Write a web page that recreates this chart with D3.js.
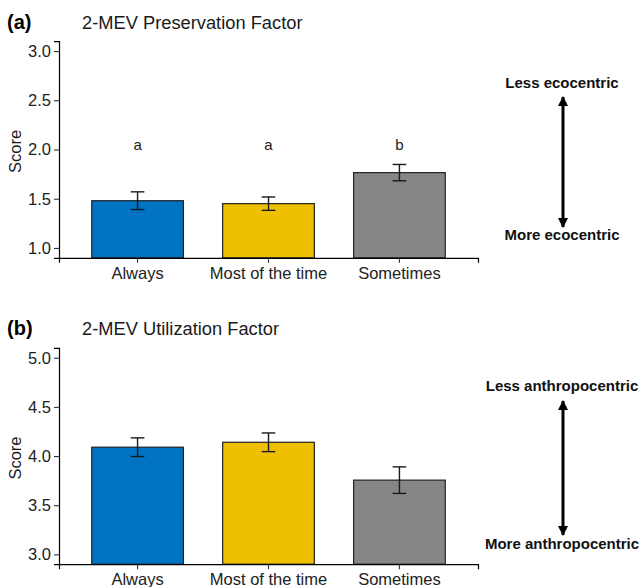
<!DOCTYPE html>
<html>
<head>
<meta charset="utf-8">
<script src="https://cdn.jsdelivr.net/npm/d3@7"></script>
<style>
  body { margin: 0; background: #fff; }
  text { font-family: "Liberation Sans", Arial, sans-serif; }
</style>
</head>
<body>
<div id="chart-area"></div>
<script>
// Data
const categories = ['Always', 'Most of the time', 'Sometimes'];
const barColors = ['#0073C2', '#EFC000', '#868686'];

const preservationMean = [1.48, 1.45, 1.765];
const preservationSE = [0.09, 0.068, 0.083];
const preservationLetters = ['a', 'a', 'b'];
const preservationTicks = [1.0, 1.5, 2.0, 2.5, 3.0];

const utilizationMean = [4.09, 4.14, 3.755];
const utilizationSE = [0.095, 0.095, 0.135];
const utilizationTicks = [3.0, 3.5, 4.0, 4.5, 5.0];

const panels = [
  { tag: '(a)', title: '2-MEV Preservation Factor', mean: preservationMean, se: preservationSE,
    letters: preservationLetters, ticks: preservationTicks, domain: [0.9, 3.1],
    top: 41.2, bottom: 257.8, titleY: 29, less: 'Less ecocentric', more: 'More ecocentric',
    lessY: 88, moreY: 240, arrowTop: 97, arrowBottom: 227 },
  { tag: '(b)', title: '2-MEV Utilization Factor', mean: utilizationMean, se: utilizationSE,
    letters: null, ticks: utilizationTicks, domain: [2.9, 5.1],
    top: 347.9, bottom: 564.2, titleY: 335, less: 'Less anthropocentric', more: 'More anthropocentric',
    lessY: 391, moreY: 549, arrowTop: 401, arrowBottom: 535 }
];

const width = 641, height = 587;
const plotLeft = 59, plotRight = 478;
const arrowX = 563;

const svg = d3.select('#chart-area')
  .append('svg')
    .attr('width', width)
    .attr('height', height);

const defs = svg.append('defs');
defs.append('marker')
    .attr('id', 'head')
    .attr('viewBox', '0 0 10 10')
    .attr('refX', 9)
    .attr('refY', 5)
    .attr('markerUnits', 'userSpaceOnUse')
    .attr('markerWidth', 12)
    .attr('markerHeight', 10)
    .attr('orient', 'auto-start-reverse')
  .append('path')
    .attr('d', 'M0,0 L10,5 L0,10 Z')
    .attr('fill', '#000');

// x scale shared by both panels
const x = d3.scaleBand()
  .domain(categories)
  .range([plotLeft, plotRight])
  .paddingInner(0.3)
  .paddingOuter(0.25);

panels.forEach((p) => {
  const y = d3.scaleLinear()
    .domain(p.domain)
    .range([p.bottom, p.top]);

  const g = svg.append('g');

  // tag + title
  g.append('text')
      .attr('x', 7)
      .attr('y', p.titleY)
      .attr('font-size', '20px')
      .attr('font-weight', 'bold')
      .attr('fill', '#000')
      .text(p.tag);
  g.append('text')
      .attr('x', 82)
      .attr('y', p.titleY)
      .attr('font-size', '18.3px')
      .attr('fill', '#1a1a1a')
      .text(p.title);

  // bars
  const data = categories.map((c, i) => ({ cat: c, mean: p.mean[i], se: p.se[i], color: barColors[i],
    letter: p.letters ? p.letters[i] : null }));

  g.selectAll('rect.bar')
    .data(data)
    .enter()
    .append('rect')
      .attr('class', 'bar')
      .attr('x', (d) => x(d.cat))
      .attr('width', x.bandwidth())
      .attr('y', (d) => y(d.mean))
      .attr('height', (d) => p.bottom - y(d.mean))
      .attr('fill', (d) => d.color)
      .attr('stroke', '#222')
      .attr('stroke-width', 1.2);

  // error bars
  const capHalf = x.step() * 0.052;
  const err = g.selectAll('g.err')
    .data(data)
    .enter()
    .append('g')
      .attr('class', 'err')
      .attr('stroke', '#1a1a1a')
      .attr('stroke-width', 1.4);
  err.append('line')
      .attr('x1', (d) => x(d.cat) + x.bandwidth() / 2)
      .attr('x2', (d) => x(d.cat) + x.bandwidth() / 2)
      .attr('y1', (d) => y(d.mean + d.se))
      .attr('y2', (d) => y(d.mean - d.se));
  ['+', '-'].forEach((s) => {
    err.append('line')
        .attr('x1', (d) => x(d.cat) + x.bandwidth() / 2 - capHalf)
        .attr('x2', (d) => x(d.cat) + x.bandwidth() / 2 + capHalf)
        .attr('y1', (d) => y(s === '+' ? d.mean + d.se : d.mean - d.se))
        .attr('y2', (d) => y(s === '+' ? d.mean + d.se : d.mean - d.se));
  });

  // significance letters
  if (p.letters) {
    g.selectAll('text.letter')
      .data(data)
      .enter()
      .append('text')
        .attr('class', 'letter')
        .attr('x', (d) => x(d.cat) + x.bandwidth() / 2)
        .attr('y', y(2.05))
        .attr('dy', '0.35em')
        .attr('text-anchor', 'middle')
        .attr('font-size', '15px')
        .attr('fill', '#1a1a1a')
        .text((d) => d.letter);
  }

  // axes
  const yAxisCall = d3.axisLeft(y)
    .tickValues(p.ticks)
    .tickFormat(d3.format('.1f'))
    .tickSizeOuter(0)
    .tickSize(5)
    .tickPadding(3);
  const yAxis = g.append('g')
    .attr('transform', 'translate(' + plotLeft + ',0)')
    .call(yAxisCall);

  const xAxisCall = d3.axisBottom(x)
    .tickSizeOuter(0)
    .tickSize(5)
    .tickPadding(4);
  const xAxis = g.append('g')
    .attr('transform', 'translate(0,' + p.bottom + ')')
    .call(xAxisCall);

  [yAxis, xAxis].forEach((ax) => {
    ax.select('.domain').attr('stroke', '#000').attr('stroke-width', 1.2);
    ax.selectAll('.tick line').attr('stroke', '#333').attr('stroke-width', 1.1);
    ax.selectAll('.tick text')
      .attr('font-size', '16.5px')
      .attr('fill', '#222')
      .style('font-family', '"Liberation Sans", Arial, sans-serif');
  });

  // y label
  g.append('text')
      .attr('transform', 'translate(21,' + ((p.top + p.bottom) / 2 + 2) + ') rotate(-90)')
      .attr('text-anchor', 'middle')
      .attr('font-size', '16.5px')
      .attr('fill', '#1a1a1a')
      .text('Score');

  // direction annotation
  g.append('text')
      .attr('x', arrowX - 1)
      .attr('y', p.lessY)
      .attr('text-anchor', 'middle')
      .attr('font-size', '15px')
      .attr('font-weight', 'bold')
      .attr('fill', '#111')
      .text(p.less);
  g.append('text')
      .attr('x', arrowX - 1)
      .attr('y', p.moreY)
      .attr('text-anchor', 'middle')
      .attr('font-size', '15px')
      .attr('font-weight', 'bold')
      .attr('fill', '#111')
      .text(p.more);
  g.append('line')
      .attr('x1', arrowX)
      .attr('x2', arrowX)
      .attr('y1', p.arrowTop)
      .attr('y2', p.arrowBottom)
      .attr('stroke', '#000')
      .attr('stroke-width', 3)
      .attr('marker-start', 'url(#head)')
      .attr('marker-end', 'url(#head)');
});
</script>
</body>
</html>
